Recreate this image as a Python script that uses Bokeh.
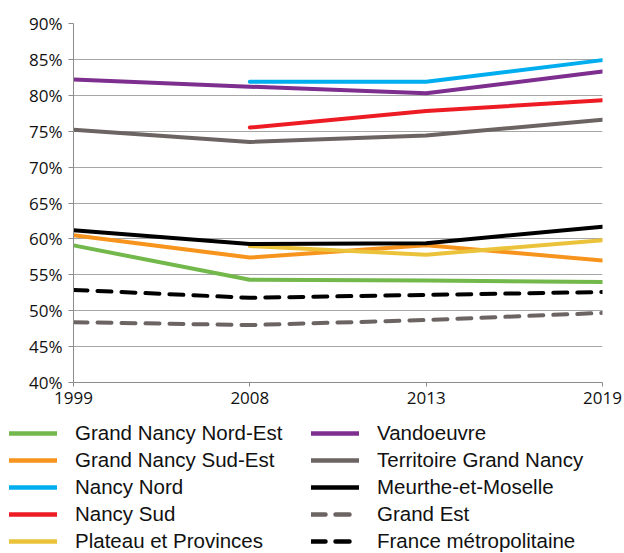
from bokeh.plotting import figure
from bokeh.layouts import column
from bokeh.models import Legend, LegendItem, FixedTicker, PrintfTickFormatter, Range1d
from bokeh.embed import file_html
from bokeh.resources import INLINE

nan = float("nan")
years = ["1999", "2008", "2013", "2019"]
y_ticks = [40, 45, 50, 55, 60, 65, 70, 75, 80, 85, 90]

grand_nancy_nord_est = [59.1, 54.3, 54.2, 54.0]
grand_nancy_sud_est = [60.5, 57.4, 59.1, 57.0]
nancy_nord = [nan, 81.9, 81.9, 84.9]
nancy_sud = [nan, 75.5, 77.8, 79.3]
plateau_provinces = [nan, 59.0, 57.8, 59.8]
vandoeuvre = [82.2, 81.2, 80.3, 83.3]
territoire_grand_nancy = [75.2, 73.5, 74.4, 76.6]
meurthe_et_moselle = [61.2, 59.3, 59.4, 61.7]
grand_est = [48.4, 48.0, 48.7, 49.7]
france_metropolitaine = [52.9, 51.8, 52.2, 52.6]

series = [
    ("Grand Nancy Nord-Est", grand_nancy_nord_est, "#72B84B", "solid"),
    ("Grand Nancy Sud-Est", grand_nancy_sud_est, "#F7941D", "solid"),
    ("Nancy Nord", nancy_nord, "#00AEEF", "solid"),
    ("Nancy Sud", nancy_sud, "#ED1C24", "solid"),
    ("Plateau et Provinces", plateau_provinces, "#EBC33A", "solid"),
    ("Vandoeuvre", vandoeuvre, "#7D2E8F", "solid"),
    ("Territoire Grand Nancy", territoire_grand_nancy, "#6B6462", "solid"),
    ("Meurthe-et-Moselle", meurthe_et_moselle, "#000000", "solid"),
    ("Grand Est", grand_est, "#6B6462", "14 10"),
    ("France métropolitaine", france_metropolitaine, "#000000", "14 10"),
]

x = list(range(len(years)))
W = 622

p = figure(width=W, height=413, output_backend="svg", toolbar_location=None,
           x_range=Range1d(0, len(years) - 1), y_range=Range1d(y_ticks[0], y_ticks[-1]),
           min_border_left=73, min_border_right=W - 602, min_border_top=23, min_border_bottom=31)
p.outline_line_color = None
p.frame_align = False

for name, vals, color, dash in series:
    p.line(x, vals, line_color=color, line_width=4, line_dash=dash,
           line_cap="round", line_join="round")

p.xaxis.ticker = FixedTicker(ticks=x)
p.xaxis.major_label_overrides = {i: y for i, y in enumerate(years)}
p.yaxis.ticker = FixedTicker(ticks=y_ticks)
p.yaxis.formatter = PrintfTickFormatter(format="%d%%")
for ax in (p.xaxis[0], p.yaxis[0]):
    ax.axis_line_color = "#8C8C8C"
    ax.axis_line_width = 1
    ax.major_tick_line_color = "#8C8C8C"
    ax.major_tick_in = 0
    ax.minor_tick_line_color = None
    ax.major_label_text_font = "Open Sans"
    ax.major_label_text_font_size = "17px"
    ax.major_label_text_color = "#111111"
p.yaxis.major_tick_out = 5
p.yaxis.major_label_standoff = 6
p.xaxis.major_tick_out = 4
p.xaxis.major_label_standoff = 5
p.xgrid.grid_line_color = None
p.ygrid.grid_line_color = "#A6A6A6"
p.ygrid.grid_line_width = 1

# legend panel: key lines carry no data points, only the legend draws them
lp = figure(width=W, height=140, output_backend="svg", toolbar_location=None,
            x_range=Range1d(0, 1), y_range=Range1d(0, 1),
            min_border_left=0, min_border_right=0, min_border_top=0, min_border_bottom=0)
lp.axis.visible = False
lp.grid.grid_line_color = None
lp.outline_line_color = None
lp.frame_align = False

items = []
for name, vals, color, dash in series:
    r = lp.line([nan], [nan], line_color=color, line_width=4.5, line_dash=dash,
                line_cap="round", line_join="round")
    items.append(LegendItem(label=name, renderers=[r]))

def make_legend(its, loc):
    lg = Legend(items=its, location=loc, orientation="vertical")
    lg.glyph_width = 48
    lg.glyph_height = 22
    lg.label_height = 22
    lg.label_standoff = 18
    lg.spacing = 3
    lg.padding = 0
    lg.margin = 0
    lg.border_line_color = None
    lg.background_fill_alpha = 0
    lg.label_text_font = "Liberation Sans"
    lg.label_text_font_size = "20.5px"
    lg.label_text_color = "#111111"
    return lg

lp.add_layout(make_legend(items[:5], (9, 0)))
lp.add_layout(make_legend(items[5:], (311, 0)))

layout = column(p, lp, spacing=0)
open("out.html", "w").write(file_html(layout, INLINE))
